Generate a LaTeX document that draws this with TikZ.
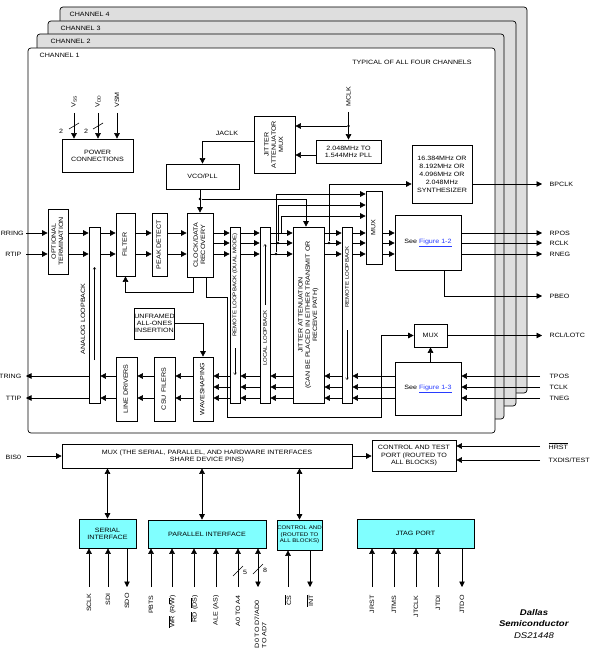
\documentclass[tikz,border=0pt]{standalone}
\usepackage{fontspec}
\setmainfont{Liberation Sans}[FakeStretch=1.15]
\usepackage{graphicx}
\usetikzlibrary{arrows.meta}
\definecolor{ifacecyan}{RGB}{128,255,255}
\definecolor{panelgray}{RGB}{222,222,222}
\definecolor{linkblue}{RGB}{40,60,255}
\newcommand{\vtxt}[1]{\rotatebox{90}{\begin{tabular}{@{}c@{}}#1\end{tabular}}}
\newcommand{\ovl}[1]{$\overline{\mbox{#1}}$}

\begin{document}
\begin{tikzpicture}[x=1pt,y=-1pt,
	every node/.style={font=\fontsize{6.2}{7.2}\selectfont},
	blk/.style={rectangle, draw=black, fill=white, inner sep=0pt, align=center, line width=0.7pt},
	strip/.style={blk, minimum width=10pt, minimum height=176pt},
	iface/.style={blk, fill=ifacecyan},
	panel/.style={draw=black, fill=panelgray, rounded corners=3pt, line width=0.7pt},
	pinlbl/.style={rotate=90, anchor=east, inner sep=0pt, align=left},
	toplbl/.style={rotate=90, anchor=west, inner sep=0pt},
	striplbl/.style={rotate=90, inner sep=0pt, font=\fontsize{5.3}{6}\selectfont},
	jdot/.style={circle, fill=black, inner sep=0pt, minimum size=2.6pt},
	line width=0.6pt, >={Triangle[length=5.5pt,width=5.5pt]}]
	
	\useasboundingbox (0,0) rectangle (592,663);
	
	%Channels
	\draw[panel] (60,7) rectangle (527,393);
	\draw[panel] (48,21) rectangle (516,406);
	\draw[panel] (37,34) rectangle (504,419);
	\draw[panel, fill=white] (28,48) rectangle (495,433);
	\node[anchor=west] (ch4) at (66,14) {CHANNEL 4};
	\node[anchor=west] (ch3) at (57,28) {CHANNEL 3};
	\node[anchor=west] (ch2) at (47,41) {CHANNEL 2};
	\node[anchor=west] (ch1) at (36,55) {CHANNEL 1};
	\node (typical) at (412,62) {TYPICAL OF ALL FOUR CHANNELS};
	
	%Rows
	\coordinate (rxa) at (0,233);
	\coordinate (rxb) at (0,243);
	\coordinate (rxc) at (0,254);
	\coordinate (txa) at (0,376);
	\coordinate (txb) at (0,387);
	\coordinate (txc) at (0,398);
	\coordinate (mia) at (0,194);
	\coordinate (mib) at (0,205);
	\coordinate (mic) at (0,216);
	\coordinate (outx) at (542,0);
	\coordinate (inx) at (540,0);
	
	%Nodes
	\node[blk, minimum width=71pt, minimum height=33pt] (power) at (97.5,155.5) {POWER\\CONNECTIONS};
	\node[blk, minimum width=73pt, minimum height=25pt] (vco) at (202.5,176.5) {VCO/PLL};
	\node[blk, minimum width=41pt, minimum height=57pt] (jamux) at (274.5,144.5) {\vtxt{JITTER\\ATTENUATOR\\MUX}};
	\node[blk, minimum width=65pt, minimum height=23pt] (pll) at (348.5,151.5) {2.048MHz TO\\1.544MHz PLL};
	\node[blk, minimum width=60pt, minimum height=58pt, font=\fontsize{6.2}{8}\selectfont] (synth) at (442,174) {16.384MHz OR\\8.192MHz OR\\4.096MHz OR\\2.048MHz\\SYNTHESIZER};
	
	\node[blk, minimum width=20pt, minimum height=65pt] (optterm) at (58,241.5) {\vtxt{OPTIONAL\\TERMINATION}};
	\node[strip, minimum width=11pt] (analog) at (94.5,315) {};
	\node[blk, minimum width=19pt, minimum height=63pt] (filter) at (125.5,244.5) {\vtxt{FILTER}};
	\node[blk, minimum width=15pt, minimum height=63pt] (peak) at (159.5,244.5) {\vtxt{PEAK DETECT}};
	\node[blk, minimum width=26pt, minimum height=64pt] (cdr) at (200,245) {\vtxt{CLOCK/DATA\\RECOVERY}};
	\node[strip] (rlbdual) at (235,315) {};
	\node[strip] (llb) at (265,315) {};
	\node[blk, minimum width=31pt, minimum height=176pt] (jatt) at (308.5,315) {\vtxt{JITTER ATTENUATION\\(CAN BE PLACED IN EITHER TRANSMIT OR\\RECEIVE PATH)}};
	\node[strip] (rlb) at (347,315) {};
	\node[blk, minimum width=16pt, minimum height=73pt] (rmux) at (374,227.5) {\vtxt{MUX}};
	\node[blk, minimum width=66pt, minimum height=55pt] (fig12) at (428,242.5) {See \textcolor{linkblue}{\underline{Figure 1-2}}};
	\node[blk, minimum width=33pt, minimum height=23pt] (tmux) at (430.5,335.5) {MUX};
	\node[blk, minimum width=66pt, minimum height=53pt] (fig13) at (428,388.5) {See \textcolor{linkblue}{\underline{Figure 1-3}}};
	\node[blk, minimum width=35pt, minimum height=31pt] (unframed) at (154.5,323.5) {UNFRAMED\\ALL-ONES\\INSERTION};
	\node[blk, minimum width=20pt, minimum height=64pt] (wave) at (203,389) {\vtxt{WAVESHAPING}};
	\node[blk, minimum width=21pt, minimum height=64pt] (csu) at (164.5,389) {\vtxt{CSU FILERS}};
	\node[blk, minimum width=21pt, minimum height=64pt] (drivers) at (126.5,389) {\vtxt{LINE DRIVERS}};
	
	\node[rotate=90] (analoglbl) at (83,319) {ANALOG LOOPBACK};
	\node[striplbl] (rlbduallbl) at (235,285) {REMOTE LOOPBACK (DUAL MODE)};
	\node[striplbl] (llblbl) at (265,338) {LOCAL LOOPBACK};
	\node[striplbl] (rlblbl) at (347,277) {REMOTE LOOPBACK};
	
	\node[blk, minimum width=290pt, minimum height=24pt] (bmux) at (207,456) {MUX (THE SERIAL, PARALLEL, AND HARDWARE INTERFACES\\SHARE DEVICE PINS)};
	\node[blk, minimum width=84pt, minimum height=31pt] (ctrl) at (414,455.5) {CONTROL AND TEST\\PORT (ROUTED TO\\ALL BLOCKS)};
	\node[iface, minimum width=57pt, minimum height=29pt] (serial) at (107.5,533.5) {SERIAL\\INTERFACE};
	\node[iface, minimum width=118pt, minimum height=28pt] (parallel) at (207,534) {PARALLEL INTERFACE};
	\node[iface, minimum width=45pt, minimum height=30pt, font=\fontsize{5.3}{6.6}\selectfont] (ctrlblk) at (299.5,535) {CONTROL AND\\(ROUTED TO\\ALL BLOCKS)};
	\node[iface, minimum width=117pt, minimum height=29pt] (jtag) at (415.5,533.5) {JTAG PORT};
	
	\node[align=center, font=\fontsize{8.3}{11.8}\selectfont] (dallas) at (534,624) {\textbf{\textit{Dallas}}\\\textbf{\textit{Semiconductor}}\\\textit{DS21448}};
	
	%Power and clock inputs
	\coordinate (vss) at (74,113);
	\coordinate (vdd) at (98,113);
	\coordinate (vsm) at (117,113);
	\node[toplbl] (vsslbl) at (74,108) {V\textsubscript{SS}};
	\node[toplbl] (vddlbl) at (98,108) {V\textsubscript{DD}};
	\node[toplbl] (vsmlbl) at (117,108) {VSM};
	\draw[->] (vss) -- (vss |- power.north);
	\draw[->] (vdd) -- (vdd |- power.north);
	\draw[->] (vsm) -- (vsm |- power.north);
	\draw (69,129) -- (79,123);
	\draw (93,129) -- (103,123);
	\node (vssn) at (61,131) {2};
	\node (vddn) at (86,131) {2};
	
	\coordinate (mclk) at (348.5,112);
	\node[toplbl] (mclklbl) at (348.5,107) {MCLK};
	\node[jdot] (mclkdot) at (348.5,126) {};
	\draw[->] (mclk) -- (pll.north);
	\draw[->] (mclkdot) -- (mclkdot -| jamux.east);
	\coordinate (pllout) at ([yshift=-3.5pt]pll.west);
	\draw[->] (pllout) -- (pllout -| jamux.east);
	\node (jaclk) at (227,133) {JACLK};
	\draw[->] ([yshift=3.5pt]jamux.west) -| (vco.north);
	\node[jdot] (vcodot) at (200,199) {};
	\draw[->] (cdr.north |- vco.south) -- (cdr.north);
	\draw[->] (vcodot) -| ([xshift=-2.5pt]jatt.north);
	
	%Receive path
	\coordinate (rring) at (26,233);
	\coordinate (rtip) at (26,254);
	\node[anchor=west, inner sep=0pt] (rringlbl) at (0.5,233) {RRING};
	\node[anchor=east] (rtiplbl) at (25,254) {RTIP};
	\draw[->] (rring) -- (rring -| optterm.west);
	\draw[->] (rtip) -- (rtip -| optterm.west);
	\foreach \a/\b in {optterm/analog, analog/filter, filter/peak, peak/cdr}
		\foreach \r in {rxa,rxc}
			\draw[->] (\a.east |- \r) -- (\b.west |- \r);
	\foreach \a/\b in {cdr/rlbdual, rlbdual/llb, llb/jatt, jatt/rlb, rlb/rmux, rmux/fig12}
		\foreach \r in {rxa,rxb,rxc}
			\draw[->] (\a.east |- \r) -- (\b.west |- \r);
	\foreach \r/\lbl in {rxa/RPOS, rxb/RCLK, rxc/RNEG} {
		\draw[->] (fig12.east |- \r) -- (outx |- \r);
		\node[anchor=west, xshift=4pt] (\lbl) at (outx |- \r) {\lbl};
	}
	\draw[->] ([xshift=-7pt]cdr.south) -- ++(0,15) -| (filter.south);
	
	%Taps to the muxes
	\node[jdot] (tapa) at (276,254) {};
	\node[jdot] (tapb) at (278,243) {};
	\coordinate (tapc) at (281,233);
	\node[jdot] (tapd) at (329,243) {};
	\draw[->] (tapa) |- (rmux.west |- mia);
	\draw[->] (tapb) |- (rmux.west |- mib);
	\draw[->] (tapc) |- (rmux.west |- mic);
	\draw[->] (tapd) |- ([yshift=-10pt]synth.west);
	\coordinate (bpclk) at (542,184);
	\draw[->] (synth.east |- bpclk) -- (bpclk);
	\node[anchor=west, xshift=4pt] (bpclklbl) at (bpclk) {BPCLK};
	\coordinate (pbeo) at (542,296);
	\draw[->] ([xshift=16pt]fig12.south) |- (pbeo);
	\node[anchor=west, xshift=4pt] (pbeolbl) at (pbeo) {PBEO};
	\draw[->] (tmux.east) -- (tmux.east -| outx);
	\node[anchor=west, xshift=4pt] (rcllbl) at (tmux.east -| outx) {RCL/LOTC};
	\draw[->] (tmux.south |- fig13.north) -- (tmux.south);
	\coordinate (clkturn) at (227,417);
	\coordinate (clkup) at (381,417);
	\draw[->] ([xshift=6pt]cdr.south) -- ++(0,20) -| (clkturn) -- (clkup) |- (tmux.west);
	
	%Transmit path
	\foreach \r/\lbl in {txa/TPOS, txb/TCLK, txc/TNEG} {
		\draw[->] (inx |- \r) -- (fig13.east |- \r);
		\node[anchor=west, xshift=6pt] (\lbl) at (inx |- \r) {\lbl};
	}
	\foreach \a/\b in {fig13/rlb, rlb/jatt, jatt/llb, llb/rlbdual, rlbdual/wave}
		\foreach \r in {txa,txb,txc}
			\draw[->] (\a.west |- \r) -- (\b.east |- \r);
	\foreach \a/\b in {wave/csu, csu/drivers, drivers/analog}
		\foreach \r in {txa,txc}
			\draw[->] (\a.west |- \r) -- (\b.east |- \r);
	\coordinate (tring) at (26,376);
	\coordinate (ttip) at (26,398);
	\node[anchor=east] (tringlbl) at (25,376) {TRING};
	\node[anchor=east] (ttiplbl) at (25,398) {TTIP};
	\draw[->] (analog.west |- tring) -- (tring);
	\draw[->] (analog.west |- ttip) -- (ttip);
	\draw[->] (unframed.east) -| (wave.north);
	
	%Loopback arrows
	\draw[-{Straight Barb[length=2pt,width=3pt]}, line width=0.4pt] (94.5,360) -- (94.5,267);
	\draw[-{Straight Barb[length=2pt,width=3pt]}, line width=0.4pt] (235,348) -- (235,375);
	\draw[-{Straight Barb[length=2pt,width=3pt]}, line width=0.4pt] (265,305) -- (265,244);
	\draw[-{Straight Barb[length=2pt,width=3pt]}, line width=0.4pt] (347,330) -- (347,380);
	
	%Host side
	\coordinate (bis0) at (27,456);
	\node[anchor=west] (bis0lbl) at (2,457) {BIS0};
	\draw[->] (bis0) -- (bmux.west);
	\draw[->] (bmux.east) -- (bmux.east -| ctrl.west);
	\coordinate (hrst) at (540,446);
	\coordinate (txdis) at (540,460);
	\node[anchor=west, xshift=5pt] (hrstlbl) at (hrst) {\ovl{HRST}};
	\node[anchor=west, xshift=5pt] (txdislbl) at (txdis) {TXDIS/TEST};
	\draw[->] (hrst) -- (hrst -| ctrl.east);
	\draw[->] (txdis) -- (txdis -| ctrl.east);
	\draw[<->] (serial.north |- bmux.south) -- (serial.north);
	\coordinate (parmid) at ([xshift=-5pt]parallel.north);
	\draw[<->] (parmid |- bmux.south) -- (parmid);
	\draw[<->] (ctrlblk.north |- bmux.south) -- (ctrlblk.north);
	
	%Pins
	\foreach \p/\x/\lbl in {sclk/89/SCLK, sdi/108/SDI} {
		\node[pinlbl] (\p) at (\x,593) {\lbl};
		\draw[->] ([yshift=6pt]\p.east) -- (\p.east |- serial.south);
	}
	\node[pinlbl] (sdo) at (127,593) {SDO};
	\draw[->] (sdo.east |- serial.south) -- ([yshift=6pt]sdo.east);
	\foreach \p/\x/\lbl in {pbts/151/PBTS, wr/172/{\ovl{WR} (R/\ovl{W})}, rd/194/{\ovl{RD} (\ovl{DS})}, ale/216/{ALE (AS)}, addr/238/{A0 TO A4}} {
		\node[pinlbl] (\p) at (\x,595) {\lbl};
		\draw[->] ([yshift=8pt]\p.east) -- (\p.east |- parallel.south);
	}
	\node[pinlbl] (data) at (260.5,600) {D0 TO D7/AD0\\TO AD7};
	\coordinate (datapin) at (258,587);
	\draw[<->] (datapin |- parallel.south) -- (datapin);
	\draw (233,576) -- (243,566);
	\draw (253,574) -- (263,564);
	\node (addrn) at (245,572) {5};
	\node (datan) at (265,570) {8};
	\node[pinlbl] (cs) at (288,595) {\ovl{CS}};
	\draw[->] ([yshift=8pt]cs.east) -- (cs.east |- ctrlblk.south);
	\node[pinlbl] (int) at (310,595) {\ovl{INT}};
	\draw[->] (int.east |- ctrlblk.south) -- ([yshift=8pt]int.east);
	\foreach \p/\x/\lbl in {jrst/372/JRST, jtms/394/JTMS, jtclk/416/JTCLK, jtdi/438/JTDI} {
		\node[pinlbl] (\p) at (\x,595) {\lbl};
		\draw[->] ([yshift=8pt]\p.east) -- (\p.east |- jtag.south);
	}
	\node[pinlbl] (jtdo) at (462,595) {JTDO};
	\draw[->] (jtdo.east |- jtag.south) -- ([yshift=8pt]jtdo.east);
\end{tikzpicture}
\end{document}
